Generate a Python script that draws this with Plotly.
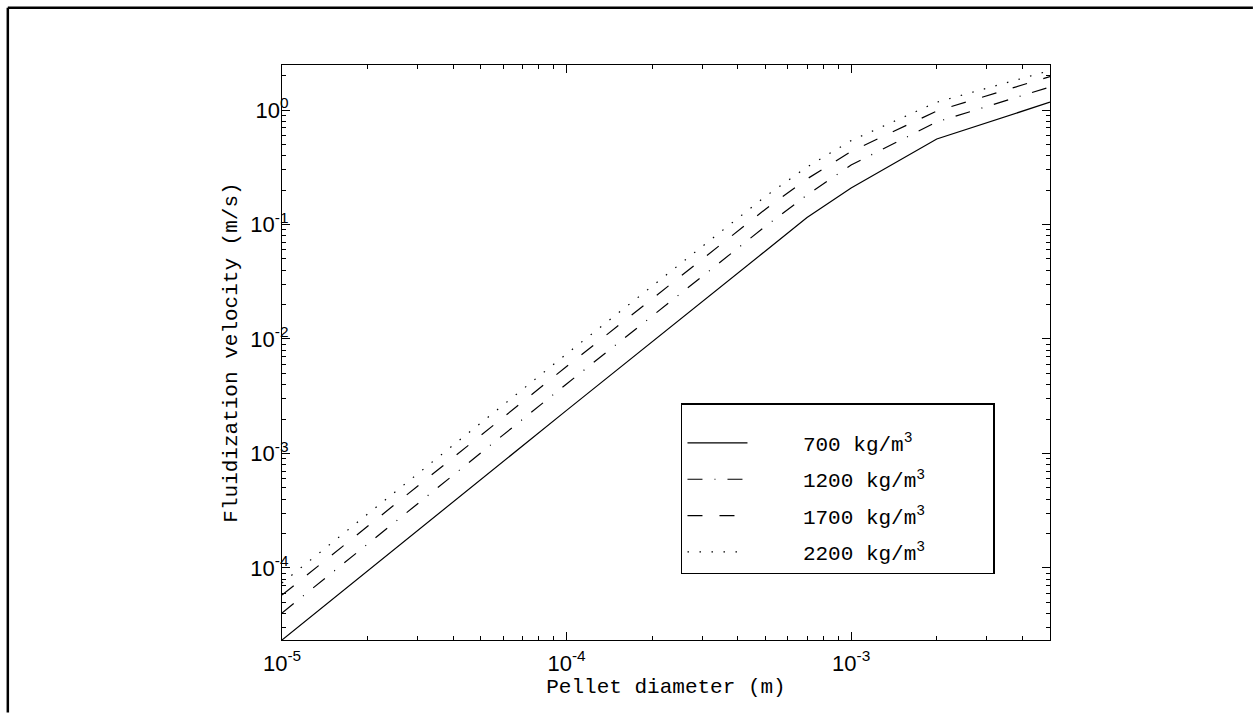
import plotly.graph_objects as go

# ---- data ----
diameter = [1e-5, 1e-4, 5e-4, 7e-4, 1e-3, 2e-3, 5e-3]
u_700 = [2.35e-5, 2.38e-3, 0.0587, 0.115, 0.208, 0.558, 1.17]
u_1200 = [4.05e-5, 4.05e-3, 0.0965, 0.181, 0.331, 0.786, 1.59]
u_1700 = [5.8e-5, 5.75e-3, 0.136, 0.250, 0.434, 0.98, 1.96]
u_2200 = [7.4e-5, 7.4e-3, 0.176, 0.318, 0.540, 1.17, 2.21]

series_names = ["700 kg/m<sup>3</sup>", "1200 kg/m<sup>3</sup>",
                "1700 kg/m<sup>3</sup>", "2200 kg/m<sup>3</sup>"]
series_dash = ["solid", "15px,12px,1px,12px", "15px,17px", "1.5px,10.5px"]

x_tickvals = [1e-5, 1e-4, 1e-3]
x_ticktext = ["10<sup>-5</sup>", "10<sup>-4</sup>", "10<sup>-3</sup>"]
y_tickvals = [1e-4, 1e-3, 1e-2, 1e-1, 1e0]
y_ticktext = ["10<sup>-4</sup>", "10<sup>-3</sup>", "10<sup>-2</sup>",
              "10<sup>-1</sup>", "10<sup>0</sup>"]

x_minor = [m * 10.0 ** e for e in range(-5, -2) for m in range(2, 10) if m * 10.0 ** e <= 5e-3]
y_minor = [m * 10.0 ** e for e in range(-5, 1) for m in range(2, 10) if m * 10.0 ** e <= 2.47]

NB = "\u00a0"
fig = go.Figure()
for i, (name, ys, dash) in enumerate(zip(series_names, [u_700, u_1200, u_1700, u_2200], series_dash)):
    fig.add_trace(go.Scatter(
        x=diameter, y=ys, mode="lines", name=NB * 4 + name + NB * 5,
        legendgroup=f"g{i}",
        line=dict(color="black", width=1.2, dash=dash),
    ))

mono = "Liberation Mono, Courier New, monospace"
sans = "Liberation Sans, Arial, sans-serif"

axis_common = dict(
    showline=True, linecolor="black", linewidth=1.3, mirror="ticks",
    ticks="inside", ticklen=8, tickcolor="black", tickwidth=1,
    showgrid=False, zeroline=False,
    tickfont=dict(family=sans, size=22, color="black"),
)

fig.update_xaxes(
    type="log", range=[-5, -2.30103],
    tickmode="array", tickvals=x_tickvals, ticktext=x_ticktext,
    minor=dict(tickmode="array", tickvals=x_minor, ticks="inside", ticklen=4,
               tickcolor="black", showgrid=False),
    ticklabelstandoff=3,
    title=dict(text="Pellet diameter (m)", font=dict(family=mono, size=21, color="black"),
               standoff=0),
    **axis_common,
)
fig.update_yaxes(
    type="log", range=[-4.629, 0.393],
    tickmode="array", tickvals=y_tickvals, ticktext=y_ticktext,
    minor=dict(tickmode="array", tickvals=y_minor, ticks="inside", ticklen=4,
               tickcolor="black", showgrid=False),
    ticklabelstandoff=-12,
    title=dict(text="Fluidization velocity (m/s)", font=dict(family=mono, size=21, color="black"),
               standoff=6),
    **axis_common,
)

fig.update_layout(
    width=1253, height=713,
    margin=dict(l=282, r=203, t=65, b=73, autoexpand=False),
    paper_bgcolor="white", plot_bgcolor="white",
    legend=dict(
        x=0.5195, y=0.412, xanchor="left", yanchor="top",
        bordercolor="black", borderwidth=1.5, bgcolor="white",
        font=dict(family=mono, size=21, color="black"),
        tracegroupgap=6, itemwidth=60,
        title=dict(text=" ", font=dict(size=14)),
    ),
    shapes=[
        dict(type="line", xref="paper", yref="paper", x0=-0.357, x1=-0.357, y0=1.0995, y1=-0.126,
             line=dict(color="black", width=2.5)),
        dict(type="line", xref="paper", yref="paper", x0=-0.357, x1=1.2642, y0=1.0995, y1=1.0995,
             line=dict(color="black", width=2.5)),
    ],
)

fig.write_html("out.html")
